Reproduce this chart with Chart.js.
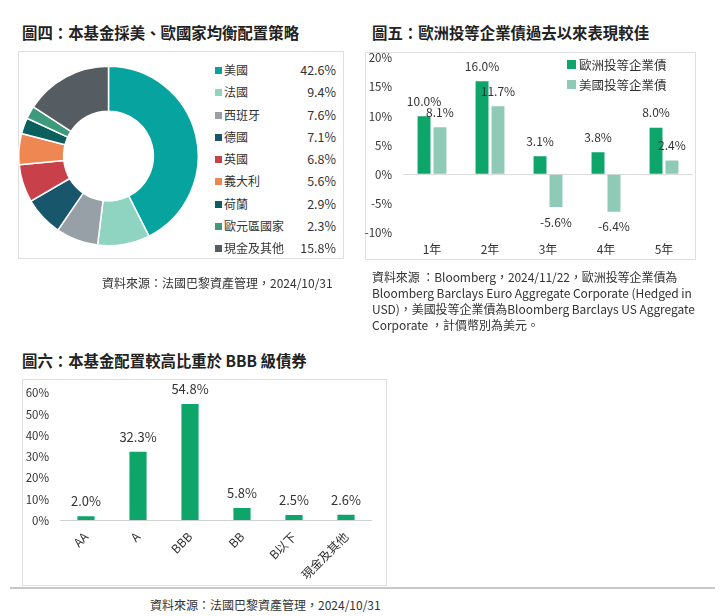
<!DOCTYPE html>
<html>
<head>
<meta charset="utf-8">
<script src="https://cdn.jsdelivr.net/npm/chart.js@4"></script>
<style>
  html, body { margin: 0; padding: 0; background: #fff; }
  body { width: 725px; height: 616px; position: relative; overflow: hidden;
         font-family: 'Noto Sans CJK TC', 'Open Sans', sans-serif; color: #333; }
  .abs { position: absolute; }
  .title { font-size: 15.4px; font-weight: bold; color: #222; white-space: nowrap; line-height: 20px; }
  .box { border: 1px solid #dedede; box-sizing: border-box; }
  .src { font-size: 12px; white-space: nowrap; line-height: 16px; }
  .lg-row { position: absolute; left: 0; width: 124px; height: 22px; line-height: 22px; font-size: 12px; }
  .lg-sq { position: absolute; left: 3px; top: 8px; width: 7px; height: 7px; }
  .lg-name { position: absolute; left: 12px; }
  .lg-val { position: absolute; right: 0; font-size: 12.5px; }
  .note { font-size: 12px; line-height: 16px; white-space: nowrap; }
</style>
</head>
<body>

<!-- 圖四 -->
<div class="abs title" style="left:22px; top:22px;">圖四：本基金採美、歐國家均衡配置策略</div>
<div class="abs box" style="left:18px; top:51px; width:326px; height:208px;"></div>
<div class="abs" style="left:18px; top:65px; width:181px; height:182px;"><canvas id="donutChart"></canvas></div>
<div class="abs" id="donutLegend" style="left:212px; top:59px; width:124px; height:200px;"></div>
<div class="abs src" style="left:102px; top:275px;">資料來源：法國巴黎資產管理，2024/10/31</div>

<!-- 圖五 -->
<div class="abs title" style="left:372px; top:22px;">圖五：歐洲投等企業債過去以來表現較佳</div>
<div class="abs box" style="left:365px; top:52px; width:331px; height:208px;"></div>
<div class="abs" style="left:360px; top:51px; width:340px; height:220px;"><canvas id="corpChart"></canvas></div>
<div class="abs" id="corpLegend" style="left:566px; top:55px; width:130px;"></div>
<div class="abs" style="left:372px; top:269px;">
  <div class="note fit">資料來源 ：Bloomberg，2024/11/22，歐洲投等企業債為</div>
  <div class="note fit">Bloomberg Barclays Euro Aggregate Corporate (Hedged in</div>
  <div class="note fit">USD)，美國投等企業債為Bloomberg Barclays US Aggregate</div>
  <div class="note">Corporate ，計價幣別為美元。</div>
</div>

<!-- 圖六 -->
<div class="abs title" style="left:22px; top:350px;">圖六：本基金配置較高比重於 BBB 級債券</div>
<div class="abs box" style="left:22px; top:379px; width:365px; height:207px;"></div>
<div class="abs" style="left:22px; top:379px; width:365px; height:212px;"><canvas id="ratingChart"></canvas></div>
<div class="abs" style="left:10px; top:587px; width:705px; height:2px; background:#c8c8c8;"></div>
<div class="abs src" style="left:150px; top:597px;">資料來源：法國巴黎資產管理，2024/10/31</div>

<script>
// 圖四 country allocation (%)
const countries = ['美國', '法國', '西班牙', '德國', '英國', '義大利', '荷蘭', '歐元區國家', '現金及其他'];
const countryWeights = [42.6, 9.4, 7.6, 7.1, 6.8, 5.6, 2.9, 2.3, 15.8];
const countryColors = ['#07a39f', '#8fd3c1', '#97a0a6', '#17566b', '#c8414a', '#ee8752', '#0b5f5c', '#3d9a7d', '#555d63'];

// 圖五 annualised returns (%)
const periods = ['1年', '2年', '3年', '4年', '5年'];
const euroCorp = [10.0, 16.0, 3.1, 3.8, 8.0];
const usCorp = [8.1, 11.7, -5.6, -6.4, 2.4];
const corpTicks = [-10, -5, 0, 5, 10, 15, 20];

// 圖六 credit rating allocation (%)
const ratings = ['AA', 'A', 'BBB', 'BB', 'B以下', '現金及其他'];
const ratingWeights = [2.0, 32.3, 54.8, 5.8, 2.5, 2.6];
const ratingTicks = [0, 10, 20, 30, 40, 50, 60];

const darkGreen = '#0ea56a';
const lightGreen = '#8fcab6';

Chart.defaults.font.family = "'Noto Sans CJK TC', 'Open Sans', sans-serif";
Chart.defaults.color = '#333';
Chart.defaults.animation = false;

// stretch the first note lines to a common width
document.querySelectorAll('.note.fit').forEach(el => {
  const w = el.getBoundingClientRect().width;
  const n = el.textContent.length - 1;
  el.style.letterSpacing = ((323 - w) / n) + 'px';
});

// draws the % value above (or below for negatives) each bar
const valueLabels = {
  id: 'valueLabels',
  afterDatasetsDraw(chart, args, opts) {
    const ctx = chart.ctx;
    ctx.save();
    ctx.font = opts.size + "px 'Noto Sans CJK TC', 'Open Sans', sans-serif";
    ctx.fillStyle = '#333';
    ctx.textAlign = 'center';
    ctx.textBaseline = 'middle';
    chart.data.datasets.forEach((ds, i) => {
      chart.getDatasetMeta(i).data.forEach((bar, j) => {
        const v = ds.data[j];
        const y = v >= 0 ? bar.y - opts.offset : bar.y + opts.offset;
        ctx.fillText(v.toFixed(1) + '%', bar.x, y);
      });
    });
    ctx.restore();
  }
};

// doughnut + html legend
const legendEl = document.getElementById('donutLegend');
countries.forEach((c, i) => {
  const row = document.createElement('div');
  row.className = 'lg-row';
  row.style.top = (i * 22.25) + 'px';
  row.innerHTML = '<span class="lg-sq" style="background:' + countryColors[i] + '"></span>' +
    '<span class="lg-name">' + c + '</span><span class="lg-val">' + countryWeights[i].toFixed(1) + '%</span>';
  legendEl.appendChild(row);
});

new Chart(document.getElementById('donutChart'), {
  type: 'doughnut',
  data: {
    labels: countries,
    datasets: [{
      data: countryWeights,
      backgroundColor: countryColors,
      borderColor: '#fff',
      borderWidth: 1.5
    }]
  },
  options: {
    responsive: true,
    maintainAspectRatio: false,
    cutout: '50%',
    plugins: { legend: { display: false }, tooltip: { enabled: false } }
  }
});

// 圖五 legend
const corpLegend = document.getElementById('corpLegend');
[['歐洲投等企業債', darkGreen], ['美國投等企業債', lightGreen]].forEach((item, i) => {
  const row = document.createElement('div');
  row.style.cssText = 'position:absolute;left:0;top:' + (i * 20) + 'px;height:20px;line-height:20px;font-size:12.5px;white-space:nowrap;';
  row.innerHTML = '<span style="position:absolute;left:1px;top:5px;width:9px;height:9px;background:' + item[1] + '"></span>' +
    '<span style="position:absolute;left:13px;">' + item[0] + '</span>';
  corpLegend.appendChild(row);
});

new Chart(document.getElementById('corpChart'), {
  type: 'bar',
  data: {
    labels: periods,
    datasets: [
      { label: '歐洲投等企業債', data: euroCorp, backgroundColor: darkGreen },
      { label: '美國投等企業債', data: usCorp, backgroundColor: lightGreen }
    ]
  },
  options: {
    responsive: true,
    maintainAspectRatio: false,
    categoryPercentage: 0.55,
    barPercentage: 0.81,
    layout: { padding: { top: 0, right: 7, bottom: 4, left: 0 } },
    plugins: {
      legend: { display: false },
      tooltip: { enabled: false },
      valueLabels: { size: 12, offset: 15 }
    },
    scales: {
      x: {
        grid: { display: false, drawTicks: false },
        border: { display: false },
        ticks: { padding: 10, font: { size: 12 } }
      },
      y: {
        min: corpTicks[0],
        max: corpTicks[corpTicks.length - 1],
        afterFit: s => { s.width = 43; },
        afterBuildTicks: s => { s.ticks = corpTicks.map(v => ({ value: v })); },
        grid: {
          tickLength: 11,
          tickColor: 'transparent',
          color: c => c.tick && c.tick.value === 0 ? '#dcdcdc' : 'transparent'
        },
        border: { display: false },
        ticks: { padding: 0, font: { size: 11.5 }, callback: v => v + '%' }
      }
    }
  },
  plugins: [valueLabels]
});

new Chart(document.getElementById('ratingChart'), {
  type: 'bar',
  data: {
    labels: ratings,
    datasets: [{ data: ratingWeights, backgroundColor: darkGreen }]
  },
  options: {
    responsive: true,
    maintainAspectRatio: false,
    categoryPercentage: 1,
    barPercentage: 0.33,
    layout: { padding: { top: 14, right: 15, bottom: 0, left: 0 } },
    plugins: {
      legend: { display: false },
      tooltip: { enabled: false },
      valueLabels: { size: 13, offset: 15 }
    },
    scales: {
      x: {
        grid: { display: false, drawTicks: false },
        border: { display: false },
        ticks: { padding: 9, minRotation: 45, maxRotation: 45, font: { size: 12 } }
      },
      y: {
        min: ratingTicks[0],
        max: ratingTicks[ratingTicks.length - 1],
        afterFit: s => { s.width = 38; },
        afterBuildTicks: s => { s.ticks = ratingTicks.map(v => ({ value: v })); },
        grid: {
          tickLength: 11,
          tickColor: 'transparent',
          color: c => c.tick && c.tick.value === 0 ? '#d0d0d0' : 'transparent'
        },
        border: { display: false },
        ticks: { padding: 0, font: { size: 11.5 }, callback: v => v + '%' }
      }
    }
  },
  plugins: [valueLabels]
});
</script>
</body>
</html>
